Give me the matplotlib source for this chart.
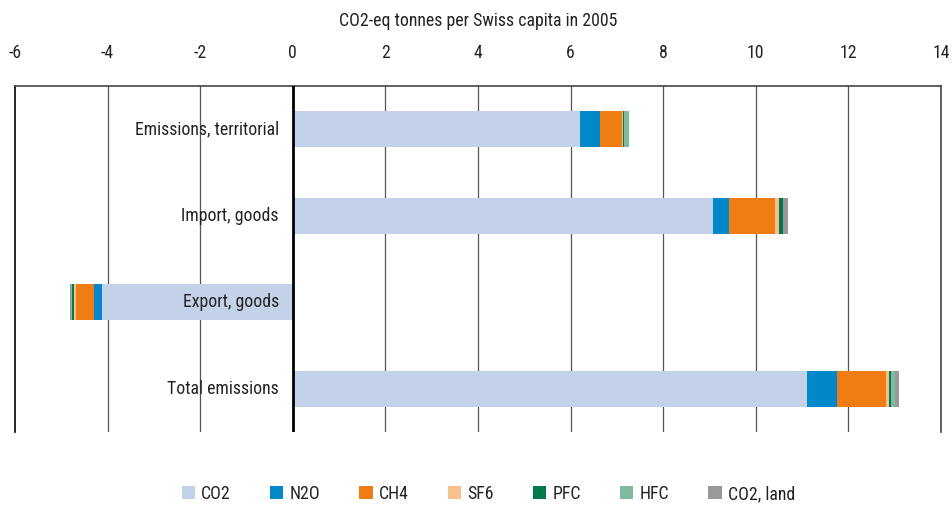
import matplotlib
matplotlib.use('Agg')
import matplotlib.pyplot as plt
import numpy as np

plt.rcParams['font.family'] = ['Roboto Condensed', 'DejaVu Sans']

categories = ['Emissions, territorial', 'Import, goods', 'Export, goods', 'Total emissions']
gases = ['CO2', 'N2O', 'CH4', 'SF6', 'PFC', 'HFC', 'CO2, land']
colors = ['#c3d2e8', '#0088c8', '#ef7d14', '#f8c08c', '#007a4c', '#80bba0', '#999999']

co2 = [6.20, 9.07, -4.13, 11.10]
n2o = [0.43, 0.35, -0.17, 0.65]
ch4 = [0.48, 0.99, -0.39, 1.06]
sf6 = [0.03, 0.09, -0.04, 0.06]
pfc = [0.01, 0.08, -0.04, 0.05]
hfc = [0.11, 0.01, -0.03, 0.09]
co2_land = [0.00, 0.11, -0.02, 0.09]
series = [co2, n2o, ch4, sf6, pfc, hfc, co2_land]

xticks = list(range(-6, 15, 2))
fs = 12.8

fig = plt.figure(figsize=(9.52, 5.07), dpi=100)
ax = fig.add_axes([15 / 952, 1 - 432 / 507, 926 / 952, 346 / 507])

ypos = np.arange(len(categories))
left = np.zeros(len(categories))
for vals, name, c in zip(series, gases, colors):
    vals = np.array(vals)
    ax.barh(ypos, vals, left=left, height=0.42, color=c, label=name, zorder=3)
    left = left + vals

ax.set_ylim(len(categories) - 0.5, -0.5)
ax.set_xlim(-6, 14)
ax.set_xticks(xticks)
ax.set_xticklabels([str(t) for t in xticks], fontsize=fs, color='#222222')
ax.xaxis.tick_top()
ax.xaxis.set_label_position('top')
ax.tick_params(axis='x', length=0, pad=17)
ax.set_xlabel('CO2-eq tonnes per Swiss capita in 2005', fontsize=fs, labelpad=13, color='#222222')
ax.set_yticks([])

for t in xticks:
    if t == 0:
        ax.axvline(0, color='black', lw=2, zorder=4)
    elif -6 < t < 14:
        ax.axvline(t, color='#555555', lw=0.9, zorder=1)

ax.spines['bottom'].set_visible(False)
ax.spines['left'].set_color('black')
ax.spines['right'].set_color('#444444')
ax.spines['top'].set_color('#444444')
for s in ['left', 'right', 'top']:
    ax.spines[s].set_linewidth(1.2)

for y, name in zip(ypos, categories):
    ax.text(-0.3, y, name, ha='right', va='center', fontsize=fs, color='#222222', zorder=5)

fig.legend(loc='center', bbox_to_anchor=(0.513, 1 - 494 / 507), ncol=7, frameon=False,
           fontsize=fs, handlelength=0.75, handleheight=0.75, handletextpad=0.35,
           columnspacing=2.2, labelcolor='#222222')

fig.savefig('out.png', dpi=100)
